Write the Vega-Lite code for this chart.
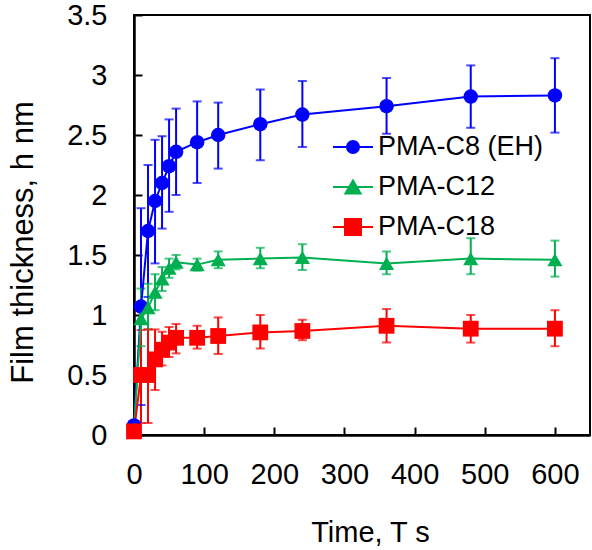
{
  "$schema": "https://vega.github.io/schema/vega-lite/v6.json",
  "width": 456,
  "height": 420,
  "autosize": {"type": "none"},
  "padding": {"left": 134, "top": 15, "right": 2, "bottom": 115},
  "background": "white",
  "config": {
    "view": {"stroke": "black", "strokeWidth": 2},
    "font": "Liberation Sans",
    "axis": {
      "grid": false,
      "domainColor": "black",
      "domainWidth": 2.5,
      "tickColor": "black",
      "tickWidth": 2,
      "tickSize": -8,
      "labelFont": "Liberation Sans",
      "labelFontSize": 29,
      "labelColor": "black",
      "titleFont": "Liberation Sans",
      "titleFontSize": 29,
      "titleFontWeight": "normal",
      "titleColor": "black",
      "labelFlush": false,
      "labelOverlap": false
    }
  },
  "data": {
    "values": [
      {"series": "PMA-C8 (EH)", "t": 0, "h": 0.08, "lo": 0.08, "hi": 0.08},
      {"series": "PMA-C8 (EH)", "t": 10, "h": 1.07, "lo": 0.25, "hi": 1.89},
      {"series": "PMA-C8 (EH)", "t": 20, "h": 1.70, "lo": 1.15, "hi": 2.25},
      {"series": "PMA-C8 (EH)", "t": 30, "h": 1.95, "lo": 1.43, "hi": 2.46},
      {"series": "PMA-C8 (EH)", "t": 40, "h": 2.10, "lo": 1.72, "hi": 2.49},
      {"series": "PMA-C8 (EH)", "t": 50, "h": 2.24, "lo": 1.86, "hi": 2.63},
      {"series": "PMA-C8 (EH)", "t": 60, "h": 2.36, "lo": 2.00, "hi": 2.72},
      {"series": "PMA-C8 (EH)", "t": 90, "h": 2.44, "lo": 2.10, "hi": 2.78},
      {"series": "PMA-C8 (EH)", "t": 120, "h": 2.50, "lo": 2.22, "hi": 2.77},
      {"series": "PMA-C8 (EH)", "t": 180, "h": 2.59, "lo": 2.29, "hi": 2.88},
      {"series": "PMA-C8 (EH)", "t": 240, "h": 2.67, "lo": 2.40, "hi": 2.95},
      {"series": "PMA-C8 (EH)", "t": 360, "h": 2.74, "lo": 2.51, "hi": 2.975},
      {"series": "PMA-C8 (EH)", "t": 480, "h": 2.82, "lo": 2.56, "hi": 3.08},
      {"series": "PMA-C8 (EH)", "t": 600, "h": 2.83, "lo": 2.52, "hi": 3.14},
      {"series": "PMA-C12", "t": 0, "h": 0.05, "lo": 0.05, "hi": 0.05},
      {"series": "PMA-C12", "t": 10, "h": 0.97, "lo": 0.74, "hi": 1.22},
      {"series": "PMA-C12", "t": 20, "h": 1.06, "lo": 0.88, "hi": 1.26},
      {"series": "PMA-C12", "t": 30, "h": 1.19, "lo": 1.04, "hi": 1.34},
      {"series": "PMA-C12", "t": 40, "h": 1.30, "lo": 1.20, "hi": 1.40},
      {"series": "PMA-C12", "t": 50, "h": 1.39, "lo": 1.31, "hi": 1.47},
      {"series": "PMA-C12", "t": 60, "h": 1.44, "lo": 1.38, "hi": 1.50},
      {"series": "PMA-C12", "t": 90, "h": 1.42, "lo": 1.37, "hi": 1.47},
      {"series": "PMA-C12", "t": 120, "h": 1.46, "lo": 1.39, "hi": 1.53},
      {"series": "PMA-C12", "t": 180, "h": 1.47, "lo": 1.39, "hi": 1.56},
      {"series": "PMA-C12", "t": 240, "h": 1.48, "lo": 1.375, "hi": 1.59},
      {"series": "PMA-C12", "t": 360, "h": 1.43, "lo": 1.34, "hi": 1.53},
      {"series": "PMA-C12", "t": 480, "h": 1.47, "lo": 1.34, "hi": 1.64},
      {"series": "PMA-C12", "t": 600, "h": 1.46, "lo": 1.32, "hi": 1.62},
      {"series": "PMA-C18", "t": 0, "h": 0.03, "lo": 0.03, "hi": 0.03},
      {"series": "PMA-C18", "t": 10, "h": 0.50, "lo": 0.10, "hi": 0.875},
      {"series": "PMA-C18", "t": 20, "h": 0.50, "lo": 0.10, "hi": 0.88},
      {"series": "PMA-C18", "t": 30, "h": 0.63, "lo": 0.375, "hi": 0.88},
      {"series": "PMA-C18", "t": 40, "h": 0.71, "lo": 0.58, "hi": 0.86},
      {"series": "PMA-C18", "t": 50, "h": 0.77, "lo": 0.65, "hi": 0.90},
      {"series": "PMA-C18", "t": 60, "h": 0.81, "lo": 0.68, "hi": 0.925},
      {"series": "PMA-C18", "t": 90, "h": 0.81, "lo": 0.72, "hi": 0.91},
      {"series": "PMA-C18", "t": 120, "h": 0.825, "lo": 0.675, "hi": 0.98},
      {"series": "PMA-C18", "t": 180, "h": 0.855, "lo": 0.72, "hi": 1.00},
      {"series": "PMA-C18", "t": 240, "h": 0.867, "lo": 0.79, "hi": 0.96},
      {"series": "PMA-C18", "t": 360, "h": 0.91, "lo": 0.77, "hi": 1.05},
      {"series": "PMA-C18", "t": 480, "h": 0.886, "lo": 0.77, "hi": 1.00},
      {"series": "PMA-C18", "t": 600, "h": 0.886, "lo": 0.74, "hi": 1.04}
    ]
  },
  "encoding": {
    "x": {
      "field": "t",
      "type": "quantitative",
      "scale": {"domain": [0, 650], "nice": false, "zero": false},
      "axis": {
        "values": [0, 100, 200, 300, 400, 500, 600],
        "title": "Time, T s",
        "titleX": 236,
        "titleY": 106,
        "titleAlign": "center",
        "titleBaseline": "alphabetic",
        "labelBaseline": "alphabetic",
        "labelPadding": 56
      }
    },
    "color": {
      "field": "series",
      "type": "nominal",
      "scale": {"domain": ["PMA-C8 (EH)", "PMA-C12", "PMA-C18"], "range": ["#0000FF", "#00B050", "#FF0000"]},
      "legend": null
    }
  },
  "layer": [
    {
      "mark": {"type": "rule", "strokeWidth": 2},
      "encoding": {
        "y": {
          "field": "lo",
          "type": "quantitative",
          "scale": {"domain": [0, 3.5], "nice": false},
          "axis": {
            "values": [0, 0.5, 1, 1.5, 2, 2.5, 3, 3.5],
            "format": "~g",
            "title": "Film thickness, h nm",
            "titleFontSize": 31,
            "titleX": -102,
            "titleY": 227,
            "titleAngle": -90,
            "titleAlign": "center",
            "titleBaseline": "alphabetic",
            "labelPadding": 35
          }
        },
        "y2": {"field": "hi"}
      }
    },
    {
      "mark": {"type": "tick", "orient": "horizontal", "size": 9, "thickness": 2},
      "encoding": {"y": {"field": "lo", "type": "quantitative"}}
    },
    {
      "mark": {"type": "tick", "orient": "horizontal", "size": 9, "thickness": 2},
      "encoding": {"y": {"field": "hi", "type": "quantitative"}}
    },
    {
      "mark": {"type": "line", "strokeWidth": 2},
      "encoding": {"y": {"field": "h", "type": "quantitative"}}
    },
    {
      "mark": {"type": "point", "filled": true, "opacity": 1, "strokeWidth": 0},
      "encoding": {
        "y": {"field": "h", "type": "quantitative"},
        "shape": {
          "field": "series",
          "type": "nominal",
          "scale": {"domain": ["PMA-C8 (EH)", "PMA-C12", "PMA-C18"], "range": ["circle", "triangle-up", "square"]},
          "legend": null
        },
        "size": {
          "field": "series",
          "type": "nominal",
          "scale": {"domain": ["PMA-C8 (EH)", "PMA-C12", "PMA-C18"], "range": [210, 250, 290]},
          "legend": null
        }
      }
    },
    {
      "transform": [{"filter": "datum.t < 0"}],
      "mark": {"type": "point", "filled": true},
      "encoding": {
        "y": {"field": "h", "type": "quantitative"},
        "color": {"value": "black"},
        "shape": {
          "field": "series",
          "type": "nominal",
          "scale": {
            "domain": ["PMA-C8 (EH)", "PMA-C12", "PMA-C18"],
            "range": [
              "M-1,0H1M0.3,0A0.3,0.3 0 1,1 -0.3,0A0.3,0.3 0 1,1 0.3,0Z",
              "M-1,0H1M0,-0.33L0.38,0.33L-0.38,0.33Z",
              "M-1,0H1M-0.4,-0.4H0.4V0.4H-0.4Z"
            ]
          },
          "legend": {
            "title": null,
            "orient": "none",
            "legendX": 198,
            "legendY": 111,
            "padding": 0,
            "symbolSize": 1600,
            "symbolStrokeWidth": 2,
            "symbolOpacity": 1,
            "labelFont": "Liberation Sans",
            "labelFontSize": 27,
            "labelColor": "black",
            "labelOffset": 4,
            "labelLimit": 400,
            "rowPadding": 6,
            "encoding": {
              "symbols": {
                "fill": {"value": {"expr": "datum.value == 'PMA-C8 (EH)' ? '#0000FF' : (datum.value == 'PMA-C12' ? '#00B050' : '#FF0000')"}},
                "stroke": {"value": {"expr": "datum.value == 'PMA-C8 (EH)' ? '#0000FF' : (datum.value == 'PMA-C12' ? '#00B050' : '#FF0000')"}},
                "opacity": {"value": 1}
              }
            }
          }
        }
      }
    }
  ],
  "resolve": {"scale": {"shape": "independent"}}
}
